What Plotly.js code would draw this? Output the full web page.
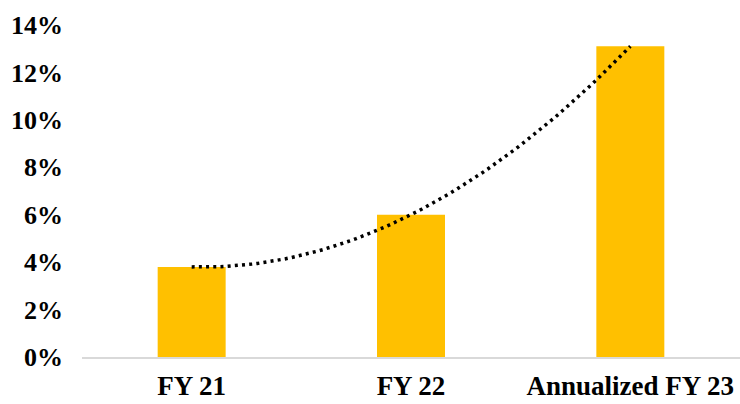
<!DOCTYPE html>
<html>
<head>
<meta charset="utf-8">
<script src="https://cdn.plot.ly/plotly-3.0.1.min.js"></script>
<style>
  html, body { margin: 0; padding: 0; background: #ffffff; }
  #chart { width: 740px; height: 404px; }
</style>
</head>
<body>
<div id="chart"></div>
<script>
const categories = ["FY 21", "FY 22", "Annualized FY 23"];
const values = [0.038, 0.060, 0.131];
const yTickValues = [0, 0.02, 0.04, 0.06, 0.08, 0.10, 0.12, 0.14];
const yTickLabels = ["0%", "2%", "4%", "6%", "8%", "10%", "12%", "14%"];

const FAMILY = "'Liberation Serif', 'DejaVu Serif', serif";

// Polynomial (order 2) least-squares trendline of the bar values, like a spreadsheet trendline.
function polyFit(xs, ys, deg) {
  const n = deg + 1;
  const A = [];
  for (let i = 0; i < n; i++) {
    A.push(new Array(n + 1).fill(0));
  }
  for (let k = 0; k < xs.length; k++) {
    for (let i = 0; i < n; i++) {
      for (let j = 0; j < n; j++) A[i][j] += Math.pow(xs[k], i + j);
      A[i][n] += ys[k] * Math.pow(xs[k], i);
    }
  }
  for (let i = 0; i < n; i++) {
    let p = i;
    for (let r = i + 1; r < n; r++) if (Math.abs(A[r][i]) > Math.abs(A[p][i])) p = r;
    [A[i], A[p]] = [A[p], A[i]];
    for (let r = 0; r < n; r++) {
      if (r === i) continue;
      const f = A[r][i] / A[i][i];
      for (let c = i; c <= n; c++) A[r][c] -= f * A[i][c];
    }
  }
  return A.map((row, i) => row[n] / row[i]);
}
const idx = categories.map((_, i) => i);
const coef = polyFit(idx, values, 2);
const trendX = [], trendY = [];
const steps = 80;
for (let s = 0; s <= steps; s++) {
  const t = (idx.length - 1) * s / steps;
  trendX.push(t);
  trendY.push(coef.reduce((acc, c, p) => acc + c * Math.pow(t, p), 0));
}

const bars = {
  type: "bar",
  x: categories,
  y: values,
  width: 0.31,
  marker: { color: "#FFC000" },
  hoverinfo: "skip",
  showlegend: false
};

const trend = {
  type: "scatter",
  mode: "lines",
  x: trendX,
  y: trendY,
  xaxis: "x2",
  line: { color: "#000000", width: 3.5, dash: "3px,4.2px" },
  hoverinfo: "skip",
  showlegend: false
};

const layout = {
  width: 740,
  height: 404,
  margin: { l: 82, r: 0, t: 25, b: 47 },
  paper_bgcolor: "#ffffff",
  plot_bgcolor: "#ffffff",
  font: { family: FAMILY, size: 24, color: "#000000" },
  xaxis: {
    type: "category",
    showgrid: false,
    showline: true,
    linecolor: "#d9d9d9",
    linewidth: 1.5,
    ticks: "",
    ticklabelstandoff: 4,
    tickfont: { family: FAMILY, size: 27, color: "#000000", weight: "bold" },
    range: [-0.5, 2.5],
    fixedrange: true
  },
  xaxis2: {
    overlaying: "x",
    type: "linear",
    range: [-0.5, 2.5],
    visible: false,
    fixedrange: true
  },
  yaxis: {
    range: [0, 0.14],
    tickvals: yTickValues,
    ticktext: yTickLabels,
    showgrid: false,
    zeroline: false,
    showline: false,
    ticks: "",
    ticklabelstandoff: 18,
    tickfont: { family: FAMILY, size: 26, color: "#000000", weight: "bold" },
    fixedrange: true
  }
};

Plotly.newPlot("chart", [bars, trend], layout, { displayModeBar: false, staticPlot: true });
</script>
</body>
</html>
